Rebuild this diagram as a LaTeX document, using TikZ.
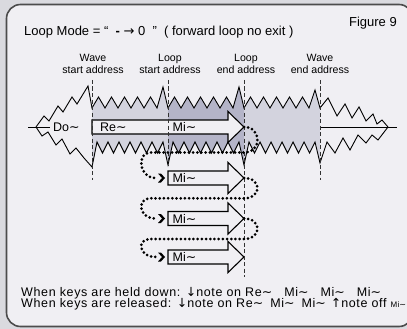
\documentclass[tikz,border=0pt]{standalone}
\usepackage{fontspec}
\setmainfont{Liberation Sans}
\newfontfamily\dejavu{DejaVu Sans}
\newfontfamily\footsans[LetterSpace=5]{Liberation Sans}
\newcommand\tld{{\dejavu\char"223C}}
\newcommand\dnarr{{\dejavu\char"2193}}
\newcommand\uparr{{\dejavu\char"2191}}
\newcommand\rarr{{\dejavu\char"2192}}
\definecolor{outerbg}{RGB}{218,218,223}
\definecolor{innerbg}{RGB}{240,239,243}
\definecolor{shadeA}{RGB}{211,211,222}
\definecolor{shadeB}{RGB}{180,180,200}
\begin{document}
\begin{tikzpicture}[x=1pt,y=-1pt,
  wave/.style={line width=0.9pt, line join=miter, black},
  addr/.style={dash pattern=on 4pt off 2.5pt, line width=0.9pt, black!80},
  blk/.style={line width=1.1pt, fill=innerbg, line join=miter},
  dots/.style={line width=3pt, line cap=round, dash pattern=on 0pt off 4.2pt},
  chev/.style={fill=black},
  ttl/.style={font=\fontsize{13}{14}\selectfont, inner sep=0pt},
  lbl/.style={font=\fontsize{10.6}{11.5}\selectfont, align=center, inner sep=0pt},
  note/.style={font=\fontsize{12.5}{13}\selectfont, inner sep=0pt},
  foot/.style={font=\footsans\fontsize{12.5}{11}\selectfont, inner sep=0pt},
]
\useasboundingbox (0,0) rectangle (407,329);
\clip (0,0) rectangle (407,329);
\fill[outerbg] (0,0) rectangle (407,329);
\draw[line width=1.6pt, draw=black!70, fill=innerbg, rounded corners=14pt] (6.5,4.5) rectangle (413,326.5);

% shaded wave segments
\foreach \xa/\cl/\sa/\sb/\pk in {92/shadeA/167/165/87, 168/shadeB/165/165/87, 244/shadeA/165/163/90} {
  \fill[\cl] (\xa,108) -- (\xa+6.5,97) -- (\xa+13,108) -- (\xa+19.5,97) -- (\xa+26,108) -- (\xa+32.5,97) -- (\xa+39,108) -- (\xa+45.5,97) -- (\xa+52,108) -- (\xa+58.5,97) -- (\xa+65,108) -- (\xa+71,\pk) -- (\xa+76,108)
   -- (\xa+76,\sb) -- (\xa+71,142) -- (\xa+65.5,153) -- (\xa+60,142) -- (\xa+54.5,153) -- (\xa+49,142) -- (\xa+43.5,153) -- (\xa+38,142) -- (\xa+32.5,153) -- (\xa+27,142) -- (\xa+21.5,153) -- (\xa+16,142) -- (\xa+10.5,153) -- (\xa+5,142) -- (\xa,\sa) -- cycle;
}
% envelope strokes
\draw[wave] (36,127) -- (44,116) -- (49,121) -- (58,106) -- (63,112) -- (72,97) -- (77,104) -- (88,86) -- (92,108)
  \foreach \xa/\pk in {92/87,168/87,244/90} { -- (\xa+6.5,97) -- (\xa+13,108) -- (\xa+19.5,97) -- (\xa+26,108) -- (\xa+32.5,97) -- (\xa+39,108) -- (\xa+45.5,97) -- (\xa+52,108) -- (\xa+58.5,97) -- (\xa+65,108) -- (\xa+71,\pk) -- (\xa+76,108)}
  -- (328,98) -- (337,116) -- (345,104) -- (352,118) -- (359,107) -- (366,121) -- (373,114) -- (377,124) -- (382,120) -- (388,127);
\draw[wave] (36,127) -- (42,136) -- (48,132) -- (56,145) -- (62,139) -- (70,154) -- (76,148) -- (84,158) -- (92,167)
  \foreach \xa/\sb in {92/165,168/165,244/163} { -- (\xa+5,142) -- (\xa+10.5,153) -- (\xa+16,142) -- (\xa+21.5,153) -- (\xa+27,142) -- (\xa+32.5,153) -- (\xa+38,142) -- (\xa+43.5,153) -- (\xa+49,142) -- (\xa+54.5,153) -- (\xa+60,142) -- (\xa+65.5,153) -- (\xa+71,142) -- (\xa+76,\sb)}
  -- (327,142) -- (335,153) -- (343,138) -- (350,150) -- (358,135) -- (366,143) -- (372,135) -- (378,140) -- (388,127);
\draw[wave] (28,127) -- (50,127);
\draw[wave] (320,127) -- (397,127);

% block arrows
\foreach \xs/\yc in {92/127, 168/178, 168/218.5, 168/257} {
  \draw[blk] (\xs,\yc-7) -- (228,\yc-7) -- (228,\yc-15.5) -- (244,\yc) -- (228,\yc+15.5) -- (228,\yc+7) -- (\xs,\yc+7) -- cycle;
}

% address lines
\draw[addr] (92,80) -- (92,180);
\draw[addr] (168,80) -- (168,166);
\draw[addr] (244,80) -- (244,277);
\draw[addr] (320,80) -- (320,180);

% texts
\node[ttl, anchor=base west] (title) at (24,36) {Loop Mode = “ \ \textbf{-} \rarr\ 0 \ ” \ ( forward loop no exit )};
\node[ttl, anchor=base east] (fig) at (397,27) {Figure 9};
\node[lbl] (wsa) at (93,64) {Wave\\start address};
\node[lbl] (lsa) at (170,64) {Loop\\start address};
\node[lbl] (lea) at (246,64) {Loop\\end address};
\node[lbl] (wea) at (320,64) {Wave\\end address};
\node[note, anchor=base west] (do) at (53,131.5) {Do\tld};
\node[note, anchor=base west] (re) at (100,131.5) {Re\tld};
\node[note, anchor=base west] (mi1) at (172.5,131.5) {Mi\tld};
\node[note, anchor=base west] (mi2) at (172.5,182.5) {Mi\tld};
\node[note, anchor=base west] (mi3) at (172.5,223) {Mi\tld};
\node[note, anchor=base west] (mi4) at (172.5,261.5) {Mi\tld};

% loop coordinates
\coordinate (t1) at (244,127);
\coordinate (t2) at (244,178);
\coordinate (t3) at (244,218.5);
\coordinate (e2) at (156,178);
\coordinate (e3) at (156,218.5);
\coordinate (e4) at (156,257);
\draw[dots] (t1) .. controls (262,127) and (262,152.5) .. (244,152.5) -- (150,152.5) .. controls (137,152.5) and (138,178) .. (e2);
\draw[dots] (t2) .. controls (262,178) and (262,198.3) .. (244,198.3) -- (150,198.3) .. controls (137,198.3) and (138,218.5) .. (e3);
\draw[dots] (t3) .. controls (262,218.5) and (262,239) .. (244,239) -- (150,239) .. controls (137,239) and (138,257) .. (e4);
\foreach \yc in {178,218.5,257} {
  \fill[chev] (158,\yc-4.5) -- (161,\yc-4.5) -- (165,\yc) -- (161,\yc+4.5) -- (158,\yc+4.5) -- (162,\yc) -- cycle;
}

\node[foot, anchor=base west] (held) at (21,296) {When keys are held down: \dnarr note on Re\tld\hspace{12pt}Mi\tld\hspace{12pt}Mi\tld\hspace{12pt}Mi\tld};
\node[foot, anchor=base west] (rel) at (21,307.5) {When keys are released: \dnarr note on Re\tld\hspace{7pt}Mi\tld\hspace{7pt}Mi\tld\hspace{5pt}\uparr note off\hspace{4pt}{\fontsize{8}{8}\selectfont Mi\tld}};
\end{tikzpicture}
\end{document}
